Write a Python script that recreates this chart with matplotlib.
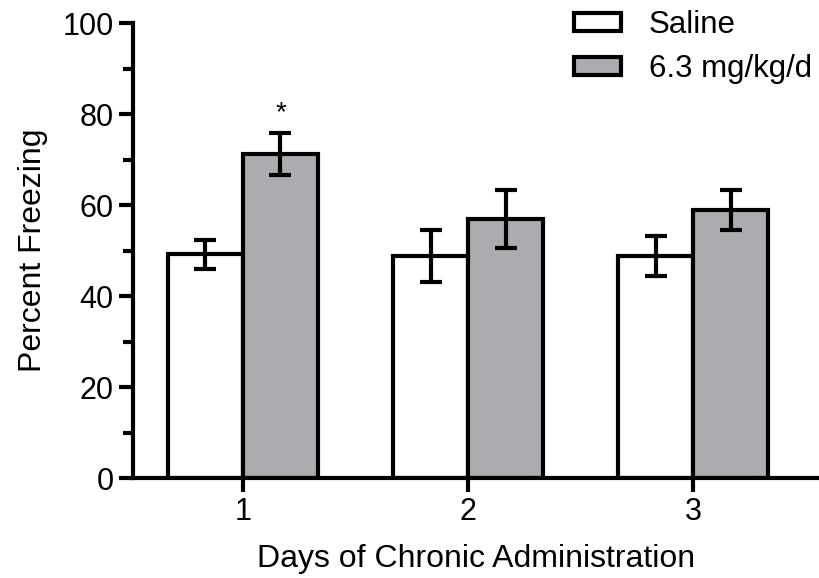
import matplotlib.pyplot as plt
import numpy as np
from matplotlib.ticker import MultipleLocator

plt.rcParams['font.family'] = ['Liberation Sans', 'DejaVu Sans']

days = [1, 2, 3]
day_labels = ["1", "2", "3"]
saline = [49.2, 48.8, 48.8]
saline_err = [3.2, 5.8, 4.4]
drug = [71.3, 56.9, 59.0]
drug_err = [4.6, 6.4, 4.4]
group_labels = ["Saline", "6.3 mg/kg/d"]

fig = plt.figure(figsize=(8.2, 5.78), dpi=100)
ax = fig.add_axes([0.162, 0.173, 0.836, 0.787])

x = np.array(days, dtype=float)
w = 0.333
lw = 3.0
err_kw = dict(elinewidth=lw, capthick=lw, ecolor='black')
ax.bar(x - w / 2, saline, w, yerr=saline_err, color='white', edgecolor='black',
       linewidth=lw, capsize=8, error_kw=err_kw, label=group_labels[0])
ax.bar(x + w / 2, drug, w, yerr=drug_err, color='#abacb0', edgecolor='black',
       linewidth=lw, capsize=8, error_kw=err_kw, label=group_labels[1])

# significance marker
ax.text(x[0] + w / 2, drug[0] + drug_err[0] + 1.5, "*", ha='center', va='bottom', fontsize=20)

ax.set_xlim(0.511, 3.556)
ax.set_ylim(0, 100)
ax.set_xticks(x)
ax.set_xticklabels(day_labels)
ax.yaxis.set_major_locator(MultipleLocator(20))
ax.yaxis.set_minor_locator(MultipleLocator(10))

for s in ['top', 'right']:
    ax.spines[s].set_visible(False)
for s in ['left', 'bottom']:
    ax.spines[s].set_linewidth(lw)
ax.tick_params(axis='both', which='major', length=10, width=lw, labelsize=22, pad=4)
ax.tick_params(axis='y', which='minor', length=7, width=lw)

ax.set_ylabel("Percent Freezing", fontsize=23, labelpad=10)
ax.set_xlabel("Days of Chronic Administration", fontsize=23, labelpad=12)

leg = ax.legend(loc='upper right', bbox_to_anchor=(1.032, 1.09), frameon=False, fontsize=22.5,
                handlelength=1.5, handleheight=0.5, handletextpad=0.9, labelspacing=0.45)
for h in leg.legend_handles:
    h.set_linewidth(lw)

plt.savefig('out.png', dpi=100)
